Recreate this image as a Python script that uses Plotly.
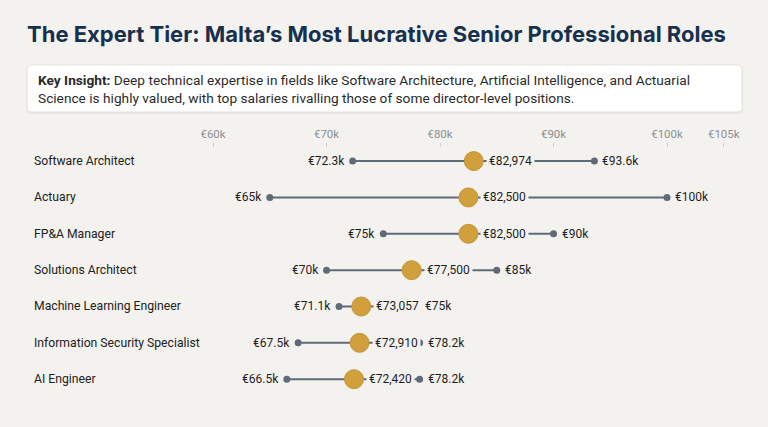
import plotly.graph_objects as go

# ---- data ----
roles = ["Software Architect", "Actuary", "FP&A Manager", "Solutions Architect",
         "Machine Learning Engineer", "Information Security Specialist", "AI Engineer"]
min_vals = [72300, 65000, 75000, 70000, 71100, 67500, 66500]
median_vals = [82974, 82500, 82500, 77500, 73057, 72910, 72420]
max_vals = [93600, 100000, 90000, 85000, 75000, 78200, 78200]
min_labels = ["€72.3k", "€65k", "€75k", "€70k", "€71.1k", "€67.5k", "€66.5k"]
median_labels = ["€82,974", "€82,500", "€82,500", "€77,500", "€73,057", "€72,910", "€72,420"]
max_labels = ["€93.6k", "€100k", "€90k", "€85k", "€75k", "€78.2k", "€78.2k"]
tick_vals = [60000, 70000, 80000, 90000, 100000, 105000]
tick_text = ["€60k", "€70k", "€80k", "€90k", "€100k", "€105k"]

title = "The Expert Tier: Malta’s Most Lucrative Senior Professional Roles"
insight = ("<b>Key Insight:</b> Deep technical expertise in fields like Software Architecture, "
           "Artificial Intelligence, and Actuarial<br>Science is highly valued, with top salaries "
           "rivalling those of some director-level positions.")

# ---- styling / layout ----
W, H = 768, 427
BG = "#f4f2ee"
LINE = "#5f6b78"
GOLD = "#d1a03c"
TXT = "#1e1e1e"
ML, MR, MT, MB = 190, 28, 148, 26
PW, PH = W - ML - MR, H - MT - MB
X0, X1 = 57970, 106430
Y0, Y1 = -0.36, 6.6
SCALE = PW / (X1 - X0)

def px_x(v):
    return ML + (v - X0) * SCALE

def paper_x(p):
    return (p - ML) / PW

def paper_y(p):
    return (H - MB - p) / PH

# rough text width for Roboto 12px
CW = {"€": 0.56, ",": 0.2, ".": 0.26, "k": 0.5}
def text_w(s, size=12):
    return sum(CW.get(c, 0.562) for c in s) * size

ys = list(range(len(roles)))
fig = go.Figure()

for i in ys:
    fig.add_trace(go.Scatter(
        x=[min_vals[i], max_vals[i]], y=[i, i], mode="lines+markers",
        line=dict(color=LINE, width=2), marker=dict(color=LINE, size=7),
        hoverinfo="skip", showlegend=False))

fig.add_trace(go.Scatter(
    x=median_vals, y=ys, mode="markers",
    marker=dict(color=GOLD, size=19, line=dict(color="#c4953a", width=1)),
    hoverinfo="skip", showlegend=False))

ann = []
for i in ys:
    ann.append(dict(x=min_vals[i], y=i, xref="x", yref="y", text=min_labels[i],
                    showarrow=False, xanchor="right", yanchor="middle", xshift=-6,
                    font=dict(family="Roboto", size=12, color=TXT)))
    ann.append(dict(x=median_vals[i], y=i, xref="x", yref="y", text=median_labels[i],
                    showarrow=False, xanchor="left", yanchor="middle", xshift=12,
                    bgcolor=BG, borderpad=2,
                    font=dict(family="Roboto", size=12, color=TXT)))
    med_right = px_x(median_vals[i]) + 12 + text_w(median_labels[i]) + 4
    shift = max(6, med_right + 3 - px_x(max_vals[i]))
    ann.append(dict(x=max_vals[i], y=i, xref="x", yref="y", text=max_labels[i],
                    showarrow=False, xanchor="left", yanchor="middle", xshift=shift,
                    font=dict(family="Roboto", size=12, color=TXT)))
    ann.append(dict(x=paper_x(32), y=i, xref="paper", yref="y", text=roles[i],
                    showarrow=False, xanchor="left", yanchor="middle",
                    font=dict(family="Roboto", size=12.2, color="#222222")))

ann.append(dict(x=paper_x(36), y=paper_y(89), xref="paper", yref="paper", text=insight,
                showarrow=False, xanchor="left", yanchor="middle", align="left",
                font=dict(family="Roboto", size=13.7, color="#2a2a2a")))

# rounded box for insight
def rounded(x0, y0, x1, y1, r):
    rx, ry = r / PW, r / PH
    a, b, c, d = paper_x(x0), paper_x(x1), paper_y(y0), paper_y(y1)
    return (f"M {a+rx},{c} L {b-rx},{c} Q {b},{c} {b},{c-ry} L {b},{d+ry} "
            f"Q {b},{d} {b-rx},{d} L {a+rx},{d} Q {a},{d} {a},{d+ry} "
            f"L {a},{c-ry} Q {a},{c} {a+rx},{c} Z")

shapes = [
    dict(type="path", path=rounded(26, 65, 743, 114, 5), xref="paper", yref="paper",
         fillcolor="rgba(0,0,0,0.05)", line=dict(width=0), layer="below"),
    dict(type="path", path=rounded(27, 65, 742, 112, 4), xref="paper", yref="paper",
         fillcolor="#ffffff", line=dict(color="#e6e3de", width=1), layer="below"),
]

fig.update_layout(
    width=W, height=H, paper_bgcolor=BG, plot_bgcolor=BG,
    margin=dict(l=ML, r=MR, t=MT, b=MB),
    title=dict(text=f"<b>{title}</b>", xref="container", x=27 / W, xanchor="left",
               yref="container", y=1 - 34 / H, yanchor="middle",
               font=dict(family="Inter", size=22, color="#17304e")),
    xaxis=dict(range=[X0, X1], side="top", tickvals=tick_vals, ticktext=tick_text,
               showgrid=False, zeroline=False, showline=False, ticks="outside",
               ticklen=4, tickcolor="#cccccc",
               tickfont=dict(family="Roboto", size=11.5, color="#8a8f96")),
    yaxis=dict(range=[Y1, Y0], showticklabels=False, showgrid=False, zeroline=False),
    annotations=ann, shapes=shapes,
)

fig.write_html("out.html", config={"displayModeBar": False},
               post_script="document.body.style.margin='0';")
